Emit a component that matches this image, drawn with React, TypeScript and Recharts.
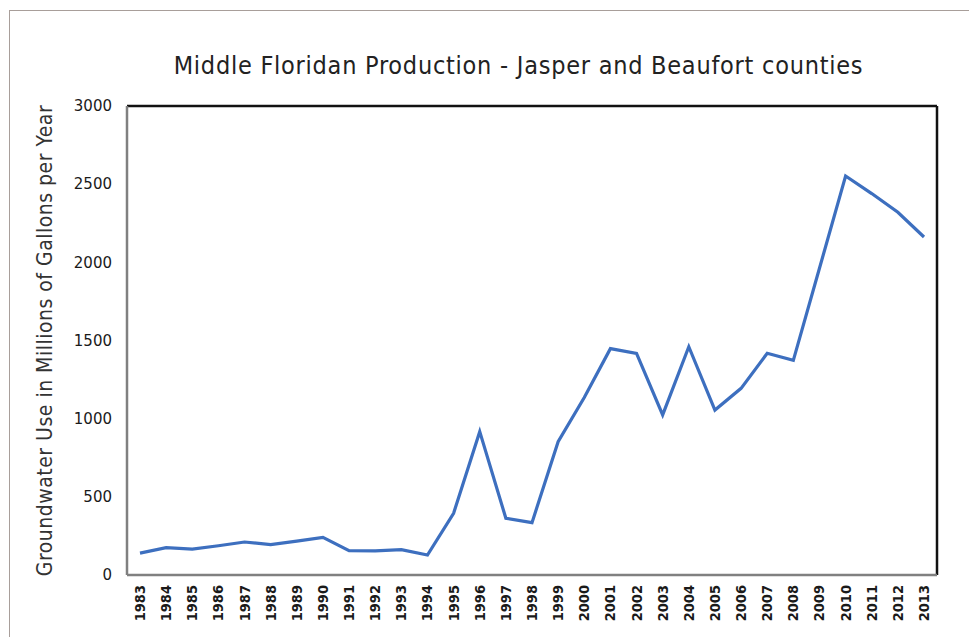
import React from "react";
import { LineChart, Line, XAxis, YAxis } from "recharts";

const years: string[] = [
  "1983","1984","1985","1986","1987","1988","1989","1990","1991","1992",
  "1993","1994","1995","1996","1997","1998","1999","2000","2001","2002",
  "2003","2004","2005","2006","2007","2008","2009","2010","2011","2012","2013",
];
const usage: number[] = [
  140, 175, 166, 187, 211, 194, 217, 241, 155, 154,
  162, 128, 395, 917, 363, 335, 853, 1135, 1448, 1418,
  1024, 1460, 1055, 1194, 1418, 1373, 1962, 2552, 2440, 2320, 2162,
];
const yTicks: number[] = [0, 500, 1000, 1500, 2000, 2500, 3000];

const data = years.map((y, i) => ({ year: y, value: usage[i] }));

const XTick = (props: any) => {
  const { x, y, payload } = props;
  return (
    <text
      transform={`translate(${x},${y}) rotate(-90)`}
      textAnchor="end"
      dominantBaseline="central"
      fontFamily="DejaVu Sans Condensed"
      fontWeight="bold"
      fontSize={14.5}
      fill="#1a1a1a"
    >
      {payload.value}
    </text>
  );
};

export default function App() {
  return (
    <div
      style={{
        position: "absolute",
        left: 0,
        top: 0,
        width: 969,
        height: 637,
        background: "#ffffff",
        overflow: "hidden",
      }}
    >
      <div
        style={{
          position: "absolute",
          left: 9,
          top: 10,
          width: 1000,
          height: 700,
          borderTop: "1px solid #a89e9a",
          borderLeft: "1px solid #a89e9a",
        }}
      />
      <div
        style={{
          position: "absolute",
          left: 0,
          top: 51,
          width: 1037,
          textAlign: "center",
          fontFamily: "DejaVu Sans Condensed",
          fontSize: 25,
          letterSpacing: 0.75,
          color: "#222",
          whiteSpace: "nowrap",
        }}
      >
        Middle Floridan Production - Jasper and Beaufort counties
      </div>
      <div style={{ position: "absolute", left: 0, top: 0 }}>
        <LineChart
          width={969}
          height={637}
          data={data}
          margin={{ top: 105, right: 31, bottom: 0, left: 0 }}
        >
          <XAxis
            xAxisId="top"
            orientation="top"
            dataKey="year"
            height={1}
            padding={{ left: 13, right: 13 }}
            tick={false}
            tickLine={false}
            axisLine={{ stroke: "#111", strokeWidth: 2.5 }}
          />
          <YAxis
            yAxisId="right"
            orientation="right"
            width={1}
            domain={[0, 3000]}
            tick={false}
            tickLine={false}
            axisLine={{ stroke: "#111", strokeWidth: 2.5 }}
          />
          <XAxis
            xAxisId="main"
            dataKey="year"
            height={62}
            interval={0}
            padding={{ left: 13, right: 13 }}
            tickLine={false}
            tickSize={0}
            tickMargin={10}
            tick={<XTick />}
            axisLine={{ stroke: "#808080", strokeWidth: 2.5 }}
          />
          <YAxis
            yAxisId="main"
            width={127}
            domain={[0, 3000]}
            ticks={yTicks}
            interval={0}
            tickLine={false}
            tickSize={0}
            tickMargin={15}
            tick={{ fontFamily: "DejaVu Sans", fontSize: 15, fill: "#1a1a1a" }}
            axisLine={{ stroke: "#808080", strokeWidth: 2.5 }}
            label={{
              value: "Groundwater Use in Millions of Gallons per Year",
              angle: -90,
              position: "insideLeft",
              offset: 0,
              dx: 45,
              style: {
                fontFamily: "DejaVu Sans Condensed",
                fontSize: 21,
                letterSpacing: 0.5,
                fill: "#333",
                textAnchor: "middle",
              },
            }}
          />
          <Line
            xAxisId="top"
            yAxisId="right"
            type="linear"
            dataKey="value"
            stroke="none"
            dot={false}
            activeDot={false}
            isAnimationActive={false}
          />
          <Line
            xAxisId="main"
            yAxisId="main"
            type="linear"
            dataKey="value"
            stroke="#3d6fbf"
            strokeWidth={3.2}
            dot={false}
            activeDot={false}
            isAnimationActive={false}
          />
        </LineChart>
      </div>
    </div>
  );
}
